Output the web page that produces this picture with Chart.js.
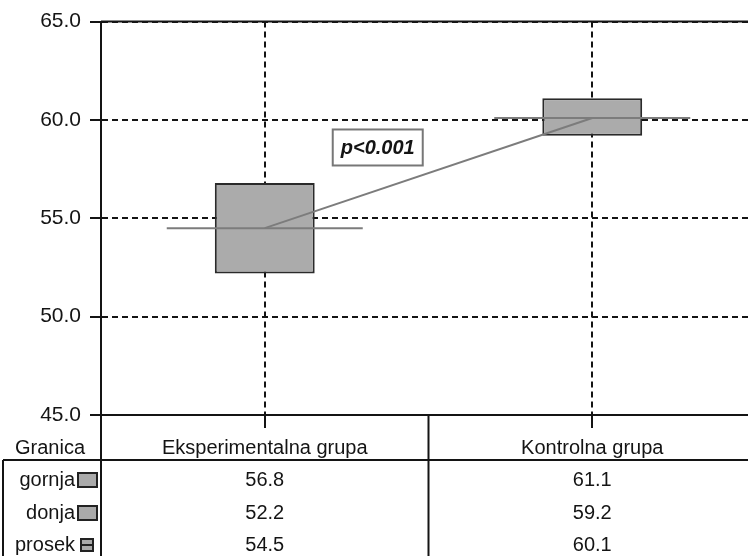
<!DOCTYPE html>
<html>
<head>
<meta charset="utf-8">
<script src="https://cdn.jsdelivr.net/npm/chart.js@4.4.0/dist/chart.umd.min.js"></script>
<style>
  html, body { margin: 0; padding: 0; background: #fff; }
  #wrap { width: 748px; height: 556px; overflow: hidden; }
  #chart { display: block; }
</style>
</head>
<body>
<div id="wrap"><canvas id="chart" width="756" height="556"></canvas></div>
<script>
// data
const groups = ['Eksperimentalna grupa', 'Kontrolna grupa'];
const upperBound = [56.8, 61.1];   // gornja
const lowerBound = [52.2, 59.2];   // donja
const meanValue = [54.5, 60.1];    // prosek
const rowLabels = ['gornja', 'donja', 'prosek'];
const yTicks = [45, 50, 55, 60, 65];
const pLabel = 'p<0.001';

const INK = '#141414';
const FONT = '"Liberation Sans", Arial, sans-serif';

// table under the plot + frame line at the top + the p label
const tablePlugin = {
  id: 'tablePlugin',
  afterDraw(chart) {
    const { ctx, chartArea: a, scales: { x, y } } = chart;
    const W = chart.width, H = chart.height;
    const headY = a.bottom + 45;
    const mid = (x.getPixelForValue(0) + x.getPixelForValue(1)) / 2;

    ctx.save();
    ctx.strokeStyle = INK;
    ctx.lineWidth = 2;
    ctx.beginPath();
    ctx.moveTo(a.left, a.top); ctx.lineTo(W, a.top);
    ctx.moveTo(a.left, a.bottom); ctx.lineTo(a.left, H);
    ctx.moveTo(mid, a.bottom); ctx.lineTo(mid, H);
    ctx.moveTo(3, headY); ctx.lineTo(W, headY);
    ctx.moveTo(3, headY); ctx.lineTo(3, H);
    ctx.stroke();

    ctx.fillStyle = INK;
    ctx.font = '20px ' + FONT;
    ctx.textBaseline = 'middle';
    ctx.textAlign = 'center';
    ctx.fillText('Granica', 50, headY - 12);

    const rows = [upperBound, lowerBound, meanValue];
    const rowY = [headY + 20, headY + 53, headY + 85];
    rows.forEach((vals, r) => {
      ctx.textAlign = 'right';
      ctx.fillStyle = INK;
      ctx.fillText(rowLabels[r], 75, rowY[r]);
      // legend swatch
      ctx.lineWidth = 2;
      ctx.strokeStyle = '#222';
      ctx.fillStyle = '#aaaaaa';
      if (r < 2) {
        ctx.fillRect(78, rowY[r] - 7, 19, 14);
        ctx.strokeRect(78, rowY[r] - 7, 19, 14);
      } else {
        ctx.fillRect(81, rowY[r] - 6, 12, 12);
        ctx.strokeRect(81, rowY[r] - 6, 12, 12);
        ctx.beginPath();
        ctx.moveTo(81, rowY[r]); ctx.lineTo(93, rowY[r]);
        ctx.stroke();
      }
      ctx.fillStyle = INK;
      ctx.textAlign = 'center';
      vals.forEach((v, i) => {
        ctx.fillText(v.toFixed(1), x.getPixelForValue(i), rowY[r]);
      });
    });

    // significance label
    const px = x.getPixelForValue(0.345);
    const py = y.getPixelForValue(58.6);
    ctx.strokeStyle = '#777';
    ctx.lineWidth = 2;
    ctx.strokeRect(px - 45, py - 18, 90, 36);
    ctx.fillStyle = INK;
    ctx.font = 'italic bold 20px ' + FONT;
    ctx.textAlign = 'center';
    ctx.fillText(pLabel, px, py + 1);
    ctx.restore();
  }
};

new Chart(document.getElementById('chart'), {
  type: 'bar',
  data: {
    labels: groups,
    datasets: [
      {
        type: 'line',
        label: 'prosek',
        data: meanValue,
        order: 0,
        borderColor: '#7c7c7c',
        borderWidth: 2,
        tension: 0,
        pointStyle: 'line',
        pointRadius: 98,
        pointHoverRadius: 98,
        pointBorderColor: '#7c7c7c',
        pointBorderWidth: 2
      },
      {
        label: 'granice',
        data: lowerBound.map((lo, i) => [lo, upperBound[i]]),
        order: 1,
        backgroundColor: '#ababab',
        borderColor: '#2a2a2a',
        borderWidth: 2,
        borderSkipped: false,
        categoryPercentage: 1,
        barPercentage: 0.305
      }
    ]
  },
  options: {
    responsive: false,
    animation: false,
    layout: { autoPadding: false, padding: { top: 18, left: 0, right: 0, bottom: 0 } },
    plugins: { legend: { display: false }, tooltip: { enabled: false } },
    scales: {
      x: {
        afterFit(scale) { scale.height = 141; },
        grid: {
          offset: false,
          color: INK,
          lineWidth: 2,
          tickLength: 13,
          tickColor: INK,
          tickWidth: 2
        },
        border: { display: true, color: INK, width: 2, dash: [6, 4] },
        ticks: {
          color: INK,
          font: { size: 20, family: FONT },
          padding: 8,
          maxRotation: 0,
          autoSkip: false
        }
      },
      y: {
        min: yTicks[0],
        max: yTicks[yTicks.length - 1],
        afterFit(scale) { scale.width = 101; },
        afterBuildTicks(scale) { scale.ticks = yTicks.map(v => ({ value: v })); },
        grid: {
          color: INK,
          lineWidth: 2,
          tickLength: 11,
          tickColor: INK,
          tickWidth: 2
        },
        border: { display: true, color: INK, width: 2, dash: [6, 4] },
        ticks: {
          color: INK,
          font: { size: 21, family: FONT },
          padding: 9,
          callback: v => Number(v).toFixed(1)
        }
      }
    }
  },
  plugins: [tablePlugin]
});
</script>
</body>
</html>
